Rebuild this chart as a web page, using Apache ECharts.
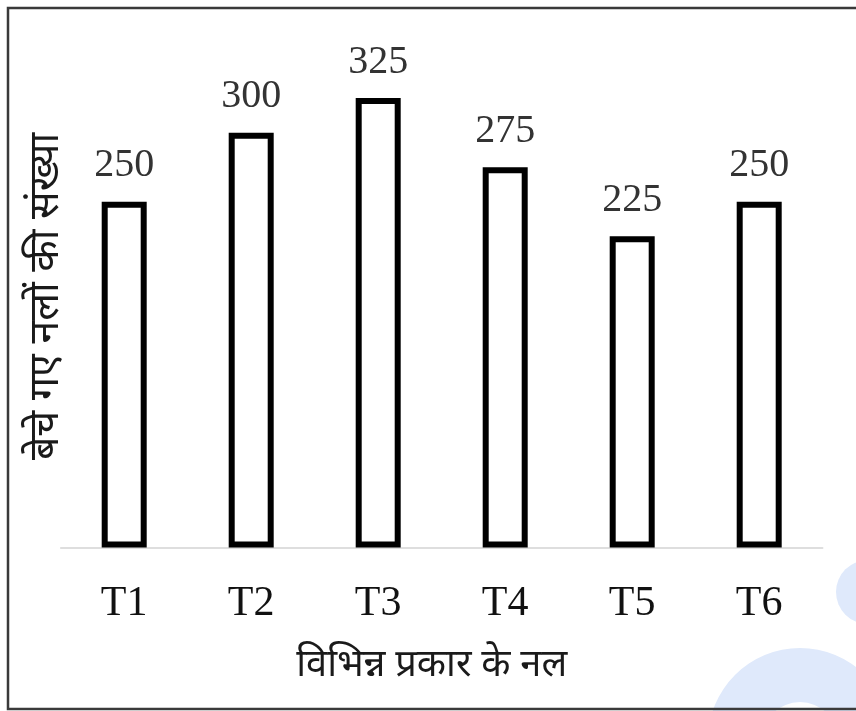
<!DOCTYPE html>
<html>
<head>
<meta charset="utf-8">
<script src="https://cdn.jsdelivr.net/npm/echarts@6/dist/echarts.min.js"></script>
<style>
  html, body { margin: 0; padding: 0; background: #ffffff; }
  #chart { width: 856px; height: 711px; }
</style>
</head>
<body>
<div id="chart"></div>
<script>
// Tap types and the number of units sold for each
const categories = ['T1', 'T2', 'T3', 'T4', 'T5', 'T6'];
const unitsSold = [250, 300, 325, 275, 225, 250];

const xAxisTitle = 'विभिन्न प्रकार के नल';
const yAxisTitle = 'बेचे गए नलों की संख्या';

const serif = "'Liberation Serif', 'Times New Roman', serif";
const deva = "'Noto Sans Devanagari', 'Noto Sans', 'Lohit Devanagari', sans-serif";

const chart = echarts.init(document.getElementById('chart'), null, { renderer: 'canvas' });

chart.setOption({
  backgroundColor: '#ffffff',
  animation: false,
  grid: { left: 60.7, top: 63.5, width: 762, height: 484, containLabel: false },
  xAxis: {
    type: 'category',
    data: categories,
    axisLine: { show: true, lineStyle: { color: '#d4d4d4', width: 1.5 } },
    axisTick: { show: false },
    axisLabel: { color: '#111111', fontFamily: serif, fontSize: 42, margin: 35 },
    name: xAxisTitle,
    nameLocation: 'middle',
    nameGap: 102,
    nameTextStyle: { color: '#1a1a1a', fontFamily: deva, fontSize: 38, padding: [0, 20, 0, 0] }
  },
  yAxis: {
    type: 'value',
    min: 0,
    max: 350,
    axisLine: { show: false },
    axisTick: { show: false },
    axisLabel: { show: false },
    splitLine: { show: false },
    name: yAxisTitle,
    nameLocation: 'middle',
    nameGap: -10,
    nameRotate: 90,
    nameTextStyle: { color: '#1a1a1a', fontFamily: deva, fontSize: 41, padding: [0, 0, 0, 18] }
  },
  series: [{
    type: 'bar',
    data: unitsSold,
    barWidth: 45,
    itemStyle: { color: '#ffffff', borderColor: '#000000', borderWidth: 6 },
    label: {
      show: true,
      position: 'top',
      distance: 16,
      color: '#333333',
      fontFamily: serif,
      fontSize: 40
    }
  }],
  graphic: [
    // outer frame
    { type: 'rect', shape: { x: 8, y: 8, width: 870, height: 701 },
      style: { fill: 'none', stroke: '#3a3a3a', lineWidth: 2.5 }, z: 10 },
    // pale blue emblem in the lower-right corner
    { type: 'ring', shape: { cx: 800, cy: 740, r: 92, r0: 38 },
      style: { fill: '#dfe9fb' }, z: -1 },
    { type: 'circle', shape: { cx: 868, cy: 592, r: 32 },
      style: { fill: '#dfe9fb' }, z: -1 }
  ]
});
</script>
</body>
</html>
